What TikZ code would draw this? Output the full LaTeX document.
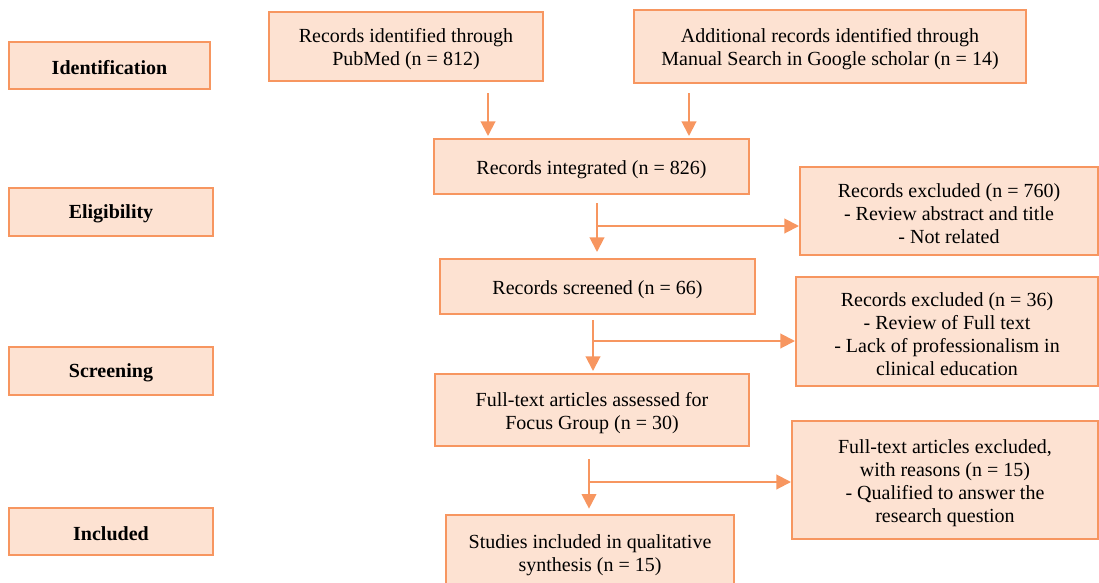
\documentclass[tikz,border=0pt]{standalone}
\usepackage{fontspec}
\setmainfont{Liberation Serif}
\usetikzlibrary{calc,arrows.meta}
\definecolor{boxfill}{RGB}{253,226,210}
\definecolor{boxline}{RGB}{247,150,96}
% strut that sets the text a little lower inside its box
\newcommand\droptext{\rule{0pt}{14.9pt}}
\newcommand\dropstage{\rule{0pt}{13.4pt}}
\begin{document}
\begin{tikzpicture}[x=0.75pt,y=-0.75pt,
  box/.style={draw=boxline,fill=boxfill,line width=1.5pt,align=center,inner sep=2pt,
    font=\fontsize{15}{17.25}\selectfont},
  stage/.style={box,font=\fontsize{15}{17.25}\selectfont\bfseries},
  arr/.style={draw=boxline,line width=1.5pt,-{Triangle[length=11pt,width=11pt]}}]
\useasboundingbox (0,0) rectangle (1099,582);

% stage labels on the left
\node[stage,minimum width=150.75pt,minimum height=35.25pt] (ident) at (109.5,65.5) {\dropstage Identification};
\node[stage,minimum width=153pt,minimum height=36pt] (elig) at (111,212) {\dropstage Eligibility};
\node[stage,minimum width=153pt,minimum height=36pt] (screen) at (111,371) {\dropstage Screening};
\node[stage,minimum width=153pt,minimum height=35.25pt] (incl) at (111,531.5) {\dropstage Included};

% main flow
\node[box,minimum width=205.5pt,minimum height=51.75pt] (pubmed) at (406,46.5)
  {\droptext Records identified through\\PubMed (n = 812)};
\node[box,minimum width=294pt,minimum height=54.75pt] (google) at (830,46.5)
  {\droptext Additional records identified through\\Manual Search in Google scholar (n = 14)};
\node[box,minimum width=236.25pt,minimum height=41.25pt] (integrated) at (591.5,166.5)
  {\droptext Records integrated (n = 826)};
\node[box,minimum width=236.25pt,minimum height=41.25pt] (screened) at (597.5,286.5)
  {\droptext Records screened (n = 66)};
\node[box,minimum width=235.5pt,minimum height=54pt] (fulltext) at (592,410)
  {\droptext Full-text articles assessed for\\Focus Group (n = 30)};
\node[box,minimum width=216pt,minimum height=60.75pt] (studies) at (590,555.5)
  {Studies included in qualitative\\synthesis (n = 15)};

% exclusions
\node[box,minimum width=223.5pt,minimum height=66pt] (excl1) at (949,211)
  {\droptext Records excluded (n = 760)\\- Review abstract and title\\- Not related};
\node[box,minimum width=226.5pt,minimum height=81.75pt] (excl2) at (947,331.5)
  {\droptext Records excluded (n = 36)\\- Review of Full text\\- Lack of professionalism in\\clinical education};
\node[box,minimum width=229.5pt,minimum height=88.5pt] (excl3) at (945,480)
  {\droptext Full-text articles excluded,\\with reasons (n = 15)\\- Qualified to answer the\\research question};

% connectors
\coordinate (a1) at ($(pubmed.south)+(82,11)$);
\coordinate (a2) at ($(google.south)+(-141,9)$);
\draw[arr,shorten >=1.5pt] (a1) -- (a1 |- integrated.north);
\draw[arr,shorten >=1.5pt] (a2) -- (a2 |- integrated.north);

\coordinate (s1) at ($(integrated.south)+(5.5,8)$);
\coordinate (j1) at ($(s1)+(0,23)$);
\draw[arr,shorten >=4.5pt] (s1) -- (s1 |- screened.north);
\draw[arr] (j1) -- (j1 -| excl1.west);

\coordinate (s2) at ($(screened.south)+(-4.5,5)$);
\coordinate (j2) at ($(s2)+(0,21)$);
\draw[arr,shorten >=1.5pt] (s2) -- (s2 |- fulltext.north);
\draw[arr] (j2) -- (j2 -| excl2.west);

\coordinate (s3) at ($(fulltext.south)+(-3,12)$);
\coordinate (j3) at ($(s3)+(0,23)$);
\draw[arr,shorten >=4pt] (s3) -- (s3 |- studies.north);
\draw[arr] (j3) -- (j3 -| excl3.west);
\end{tikzpicture}
\end{document}
